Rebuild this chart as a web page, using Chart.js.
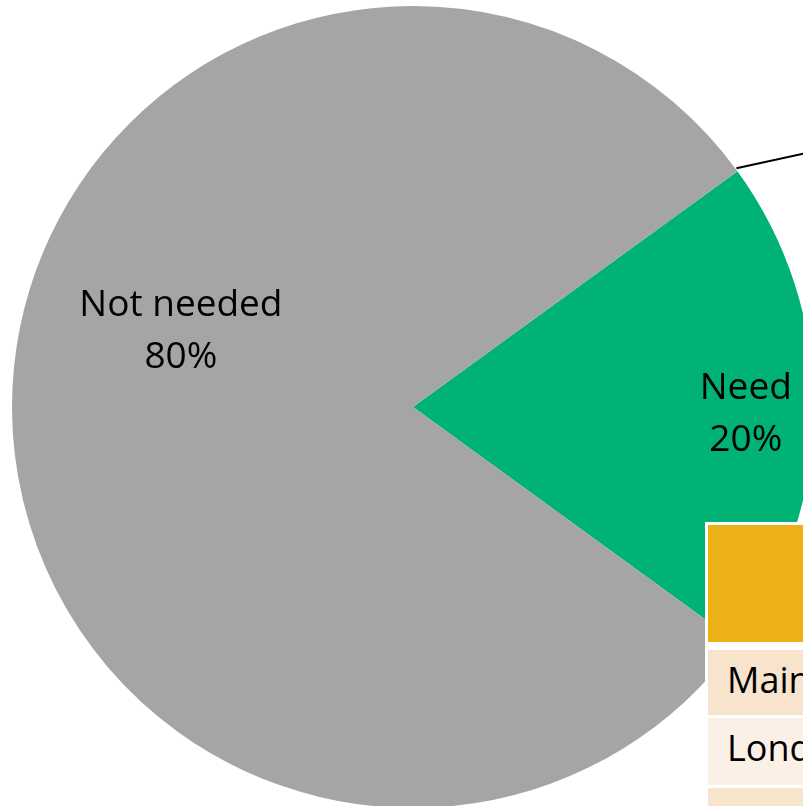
<!DOCTYPE html>
<html>
<head>
<meta charset="utf-8">
<script src="https://cdn.jsdelivr.net/npm/chart.js@4/dist/chart.umd.min.js"></script>
<style>
  html, body { margin: 0; padding: 0; background: #ffffff; overflow: hidden; }
  #wrap { position: relative; width: 803px; height: 806px; overflow: hidden; }
  #pie { position: absolute; left: 0; top: 0; }
  #tbl { position: absolute; left: 705px; top: 522px; width: 200px; background: #ffffff;
         padding: 3px 0 0 3px; font-family: "Open Sans", sans-serif; font-size: 36px; color: #000; }
  #tbl .head { height: 117px; background: #EDB118; }
  #tbl .row { height: 65px; margin-top: 8px; padding-left: 19px; line-height: 60px; white-space: nowrap; }
  #tbl .row.r1 { background: #F8E3CD; }
  #tbl .row.r2 { background: #FBF0E6; margin-top: 3px; height: 67px; }
  #tbl .row.r3 { background: #F8E3CD; margin-top: 3px; height: 40px; }
</style>
</head>
<body>
<div id="wrap">
  <canvas id="pie" width="826" height="814"></canvas>
  <div id="tbl">
    <div class="head"></div>
    <div class="row r1">Main</div>
    <div class="row r2">London</div>
    <div class="row r3"></div>
  </div>
</div>
<script>
// Share of respondents who need the service
const categories = ["Need", "Not needed"];
const shares = [20, 80];
const sliceColors = ["#00B274", "#A5A5A5"];

// Draws the two-line slice labels and the connector leaving the "Need" slice
const sliceLabels = {
  id: "sliceLabels",
  afterDatasetsDraw(chart, args, opts) {
    const ctx = chart.ctx;
    const arcs = chart.getDatasetMeta(0).data;
    ctx.save();
    ctx.fillStyle = "#000";
    ctx.font = "37px 'Open Sans', sans-serif";
    ctx.textAlign = "center";
    ctx.textBaseline = "alphabetic";
    arcs.forEach((arc, i) => {
      const p = opts.place[i];
      const a = p.angle * Math.PI / 180;
      const x = arc.x + Math.cos(a) * arc.outerRadius * p.r;
      const y = arc.y + Math.sin(a) * arc.outerRadius * p.r;
      ctx.fillText(categories[i], x, y - 14);
      ctx.fillText(shares[i] + "%", x, y + 38);
    });
    // connector from the leading edge of the first slice
    const first = arcs[0];
    const sx = first.x + Math.cos(first.startAngle) * first.outerRadius;
    const sy = first.y + Math.sin(first.startAngle) * first.outerRadius;
    ctx.strokeStyle = "#000";
    ctx.lineWidth = 2;
    ctx.beginPath();
    ctx.moveTo(sx - 1, sy - 3);
    ctx.lineTo(sx + 100, sy - 25);
    ctx.stroke();
    ctx.restore();
  }
};

new Chart(document.getElementById("pie"), {
  type: "pie",
  data: {
    labels: categories,
    datasets: [{
      data: shares,
      backgroundColor: sliceColors,
      borderWidth: 0
    }]
  },
  options: {
    responsive: false,
    animation: false,
    devicePixelRatio: 1,
    rotation: 54,
    layout: { padding: 6 },
    plugins: {
      legend: { display: false },
      tooltip: { enabled: false },
      sliceLabels: {
        place: [
          { angle: 1, r: 0.83 },
          { angle: 198.4, r: 0.61 }
        ]
      }
    }
  },
  plugins: [sliceLabels]
});
</script>
</body>
</html>
